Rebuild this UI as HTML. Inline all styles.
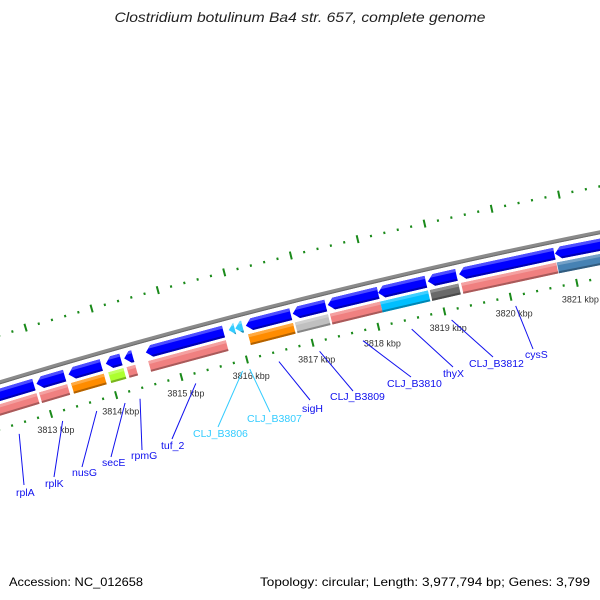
<!DOCTYPE html>
<html><head><meta charset="utf-8">
<style>
html,body{margin:0;padding:0;background:#fff;}
svg{display:block;}
text{font-family:"Liberation Sans",sans-serif;}
</style></head>
<body>
<svg id="chart" width="600" height="600" viewBox="0 0 600 600" xmlns="http://www.w3.org/2000/svg">
<rect width="600" height="600" fill="#fff"/>
<text x="300" y="22" text-anchor="middle" font-size="14" font-style="italic" fill="#222" textLength="371" lengthAdjust="spacingAndGlyphs">Clostridium botulinum Ba4 str. 657, complete genome</text>
<g id="rings"></g>
<g id="genes"></g>
<g id="labels"></g>
<text x="9" y="586" font-size="12" fill="#000" textLength="134" lengthAdjust="spacingAndGlyphs">Accession: NC_012658</text>
<text x="260" y="586" font-size="12" fill="#000" textLength="330" lengthAdjust="spacingAndGlyphs">Topology: circular; Length: 3,977,794 bp; Genes: 3,799</text>
</svg>
<script>
// ---- data (kbp) ----
const geneStarts = [3812.05, 3812.92, 3813.41, 3813.98, 3814.26, 3814.59, 3815.85, 3815.95, 3816.11, 3816.82, 3817.35, 3818.11, 3818.86, 3819.33, 3820.77];
const geneEnds   = [3812.88, 3813.35, 3813.91, 3814.21, 3814.39, 3815.77, 3815.94, 3816.06, 3816.79, 3817.32, 3818.11, 3818.83, 3819.29, 3820.76, 3822.60];
const geneCogColors = ['#f08080','#f08080','#ff8c00','#adff2f','#f08080','#f08080',null,null,'#ff8c00','#c0c0c0','#f08080','#00bfff','#696969','#f08080','#4682b4'];
const geneArrowColors = ['#0000ff','#0000ff','#0000ff','#0000ff','#0000ff','#0000ff','#33ccff','#33ccff','#0000ff','#0000ff','#0000ff','#0000ff','#0000ff','#0000ff','#0000ff'];
const labelNames = ['rplA','rplK','nusG','secE','rpmG','tuf_2','CLJ_B3806','CLJ_B3807','sigH','CLJ_B3809','CLJ_B3810','thyX','CLJ_B3812','cysS'];
const labelGene  = [0,1,2,3,4,5,6,7,8,9,10,11,12,13];
const tickStart = 3810, tickEnd = 3824;
const majorTickLabels = ['3813 kbp','3814 kbp','3815 kbp','3816 kbp','3817 kbp','3818 kbp','3819 kbp','3820 kbp','3821 kbp'];
const majorTickValues = [3813,3814,3815,3816,3817,3818,3819,3820,3821];

// ---- layout ----
const CX = 1850, CY = 6509, R = 6400, DEG_PER_KBP = 0.611, REF = 3817, REF_ANGLE = -104;
const labelLayout = [ // line end x,y ; text x, baseline y
 [24,485,16,496],[54,477,45,487],[82,467,72,476],[111,457,102,466],[142,450,131,459],[172,439,161,449],
 [218,427,193,437],[270,412,247,422],[310,400,302,412],[353,391,330,400],[411,377,387,387],[453,367,443,377],[493,357,469,367],[533,349,525,358]
];
const NS = 'http://www.w3.org/2000/svg';
function P(k, r){ const t=(REF_ANGLE+(k-REF)*DEG_PER_KBP)*Math.PI/180; return [CX+r*Math.cos(t), CY+r*Math.sin(t)]; }
function pts(list){ return list.map(p=>p[0].toFixed(2)+','+p[1].toFixed(2)).join(' '); }
function mk(tag, attrs, parent){ const e=document.createElementNS(NS,tag); for(const k in attrs) e.setAttribute(k,attrs[k]); parent.appendChild(e); return e; }
function shade(hex, f){
  let n=parseInt(hex.slice(1),16), c=[n>>16&255,n>>8&255,n&255];
  c=c.map(v=> f>0? Math.round(v+(255-v)*f) : Math.round(v*(1+f)));
  return 'rgb('+c.join(',')+')';
}
const rings=document.getElementById('rings'), genesG=document.getElementById('genes'), labelsG=document.getElementById('labels');

// backbone
const bb=[]; for(let k=tickStart;k<=tickEnd;k+=0.25) bb.push(P(k,R));
let el=mk('polyline',{points:pts(bb),fill:'none',stroke:'#8a8a8a','stroke-width':4},rings);


const bb2=[]; for(let k=tickStart;k<=tickEnd;k+=0.25) bb2.push(P(k,R-1.5));
mk('polyline',{points:pts(bb2),fill:'none',stroke:'#6a6a6a','stroke-width':1},rings);

// ticks
for(let i=Math.round(tickStart*5); i<=Math.round(tickEnd*5); i++){
  const k=i/5, major=(i%5===0);
  [R-45, R+45].forEach((rr,idx)=>{
    const a=P(k, major? rr+4: rr+1.2), b=P(k, major? rr-4: rr-1.2);
    const t=mk('line',{x1:a[0],y1:a[1],x2:b[0],y2:b[1],stroke:'#1a8a1a','stroke-width':2},rings);
    
    
  });
}
majorTickValues.forEach((k,i)=>{
  const p=P(k,R-62);
  const t=mk('text',{x:p[0],y:p[1]+3,'text-anchor':'middle','font-size':9,fill:'#333'},rings);
  t.textContent=majorTickLabels[i];
  
  
});

// genes
const H=0.09;
geneStarts.forEach((s,i)=>{
  const e=geneEnds[i], ro=R-6, ri=R-18, rm=(ro+ri)/2, h=Math.min(H,e-s), col=geneArrowColors[i];
  const g=mk('g',{},genesG);
  
  
  mk('polygon',{points:pts([P(e,ro),P(s+h,ro),P(s,rm),P(s+h,ri),P(e,ri)]),fill:col},g);
  mk('polygon',{points:pts([P(e,ro),P(s+h,ro),P(s+h/2,ro-3),P(e,ro-3)]),fill:shade(col,0.3)},g);
  mk('polygon',{points:pts([P(e,ri+2),P(s+h*4/6,ri+2),P(s+h,ri),P(e,ri)]),fill:shade(col,-0.3)},g);
  const c=geneCogColors[i];
  if(c){
    const bo=R-21, bi=R-32;
    const b=mk('g',{},genesG);
    
    
    mk('polygon',{points:pts([P(s,bo),P(e,bo),P(e,bi),P(s,bi)]),fill:c},b);
    mk('polygon',{points:pts([P(s,bo),P(e,bo),P(e,bo-3),P(s,bo-3)]),fill:shade(c,0.25)},b);
    mk('polygon',{points:pts([P(s,bi+2),P(e,bi+2),P(e,bi),P(s,bi)]),fill:shade(c,-0.3)},b);
  }
});

// labels
labelNames.forEach((nm,i)=>{
  const gi=labelGene[i], mid=(geneStarts[gi]+geneEnds[gi])/2, a=P(mid,R-55), L=labelLayout[i];
  const col=(geneArrowColors[gi]==='#33ccff')?'#33ccff':'#1010ee';
  const ln=mk('line',{x1:a[0],y1:a[1],x2:L[0],y2:L[1],stroke:col,'stroke-width':1},labelsG);
  
  
  const t=mk('text',{x:L[2],y:L[3],'font-size':10.5,fill:col},labelsG);
  t.textContent=nm;
  
  
});
</script>
</body></html>
